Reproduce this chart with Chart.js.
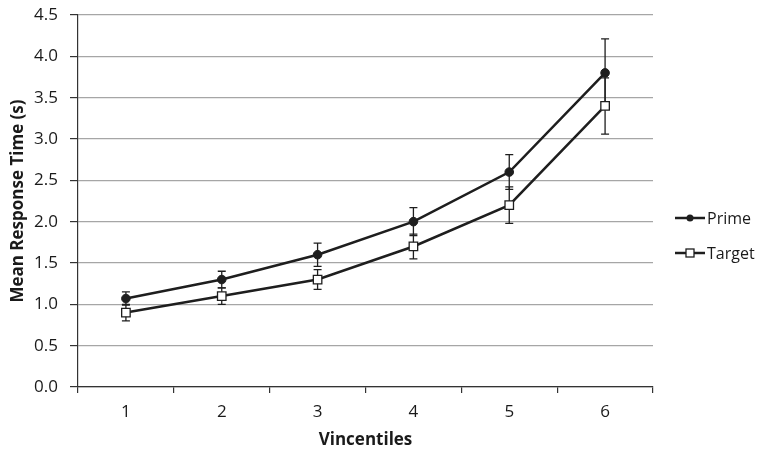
<!DOCTYPE html>
<html>
<head>
<meta charset="utf-8">
<script src="https://cdn.jsdelivr.net/npm/chart.js@4.4.0/dist/chart.umd.min.js"></script>
<style>
  html, body { margin: 0; padding: 0; background: #fff; }
  #wrap { width: 763px; height: 454px; }
</style>
</head>
<body>
<div id="wrap"><canvas id="grafico" width="763" height="454"></canvas></div>
<script>
// dados
const vincentis = ['1', '2', '3', '4', '5', '6']
const primeMedia = [1.07, 1.3, 1.6, 2.0, 2.6, 3.8]
const primeErro = [0.08, 0.1, 0.14, 0.17, 0.21, 0.41]
const targetMedia = [0.9, 1.1, 1.3, 1.7, 2.2, 3.4]
const targetErro = [0.1, 0.1, 0.12, 0.15, 0.22, 0.34]
const ticksY = [0, 0.5, 1, 1.5, 2, 2.5, 3, 3.5, 4, 4.5]

const fonte = "'Open Sans', 'Liberation Sans', sans-serif"
const corLinha = '#1e1e1e'
const corTexto = '#1a1a1a'

// barras de erro desenhadas com as escalas do proprio chart
const barrasErro = {
  id: 'barrasErro',
  beforeDatasetsDraw(chart) {
    const ctx = chart.ctx
    const y = chart.scales.y
    chart.data.datasets.forEach((ds, i) => {
      const meta = chart.getDatasetMeta(i)
      meta.data.forEach((pt, j) => {
        const v = ds.data[j], e = ds.erros[j]
        const yTop = y.getPixelForValue(v + e)
        const yBot = y.getPixelForValue(v - e)
        ctx.save()
        ctx.strokeStyle = corLinha
        ctx.lineWidth = 1.3
        ctx.beginPath()
        ctx.moveTo(pt.x, yTop); ctx.lineTo(pt.x, yBot)
        ctx.moveTo(pt.x - 4, yTop); ctx.lineTo(pt.x + 4, yTop)
        ctx.moveTo(pt.x - 4, yBot); ctx.lineTo(pt.x + 4, yBot)
        ctx.stroke()
        ctx.restore()
      })
    })
  }
}

// legenda com linha + marcador, no lado direito
const legendaLinha = {
  id: 'legendaLinha',
  afterDraw(chart) {
    const ctx = chart.ctx
    const x0 = chart.chartArea.right + 22
    const linhas = [218, 253]
    chart.data.datasets.forEach((ds, i) => {
      const yy = linhas[i]
      ctx.save()
      ctx.strokeStyle = corLinha
      ctx.lineWidth = 2.5
      ctx.beginPath()
      ctx.moveTo(x0, yy); ctx.lineTo(x0 + 30, yy)
      ctx.stroke()
      ctx.lineWidth = 1.3
      if (ds.pointStyle === 'circle') {
        ctx.fillStyle = corLinha
        ctx.beginPath()
        ctx.arc(x0 + 15, yy, 3.5, 0, Math.PI * 2)
        ctx.fill()
      } else {
        ctx.fillStyle = '#fff'
        ctx.fillRect(x0 + 11, yy - 4, 8, 8)
        ctx.strokeRect(x0 + 11, yy - 4, 8, 8)
      }
      ctx.fillStyle = corTexto
      ctx.font = '16px ' + fonte
      ctx.textBaseline = 'middle'
      ctx.fillText(ds.label, x0 + 32, yy + 1)
      ctx.restore()
    })
  }
}

const ctx1 = document.getElementById('grafico')
new Chart(ctx1, {
  type: 'line',
  data: {
    labels: vincentis,
    datasets: [
      {
        label: 'Prime',
        data: primeMedia,
        erros: primeErro,
        borderColor: corLinha,
        borderWidth: 2.5,
        pointStyle: 'circle',
        pointRadius: 4.3,
        pointBackgroundColor: corLinha,
        pointBorderColor: corLinha,
        pointBorderWidth: 1,
        tension: 0
      },
      {
        label: 'Target',
        data: targetMedia,
        erros: targetErro,
        borderColor: corLinha,
        borderWidth: 2.5,
        pointStyle: 'rect',
        pointRadius: 6,
        pointBackgroundColor: '#fff',
        pointBorderColor: corLinha,
        pointBorderWidth: 1.3,
        tension: 0
      }
    ]
  },
  options: {
    responsive: false,
    animation: false,
    layout: { padding: { top: 2, right: 110, bottom: 0, left: 4 } },
    plugins: {
      legend: { display: false },
      tooltip: { enabled: false }
    },
    scales: {
      x: {
        type: 'category',
        offset: true,
        grid: {
          offset: true,
          drawOnChartArea: false,
          drawTicks: true,
          tickLength: 6,
          tickColor: '#333',
          lineWidth: 1.2
        },
        border: { color: '#333', width: 1.2 },
        ticks: { color: corTexto, font: { family: fonte, size: 17 }, padding: 9 },
        title: {
          display: true,
          text: 'Vincentiles',
          color: corTexto,
          font: { family: fonte, size: 17, weight: 'bold' },
          padding: { top: 1 }
        },
        afterFit(scale) { scale.height = 67 }
      },
      y: {
        min: 0,
        max: 4.5,
        afterBuildTicks(scale) { scale.ticks = ticksY.map(v => ({ value: v })) },
        grid: {
          color: '#a6a6a6',
          lineWidth: 1.2,
          tickLength: 8,
          tickColor: '#333'
        },
        border: { color: '#333', width: 1.2 },
        ticks: {
          color: corTexto,
          font: { family: fonte, size: 17 },
          padding: 12,
          callback: v => v.toFixed(1)
        },
        title: {
          display: true,
          text: 'Mean Response Time (s)',
          color: corTexto,
          font: { family: fonte, size: 17, weight: 'bold' },
          padding: { bottom: 2 }
        },
        afterFit(scale) {
          scale.width = 74
          scale.paddingTop = 15
          scale.paddingBottom = 0
        }
      }
    }
  },
  plugins: [barrasErro, legendaLinha]
})
</script>
</body>
</html>
